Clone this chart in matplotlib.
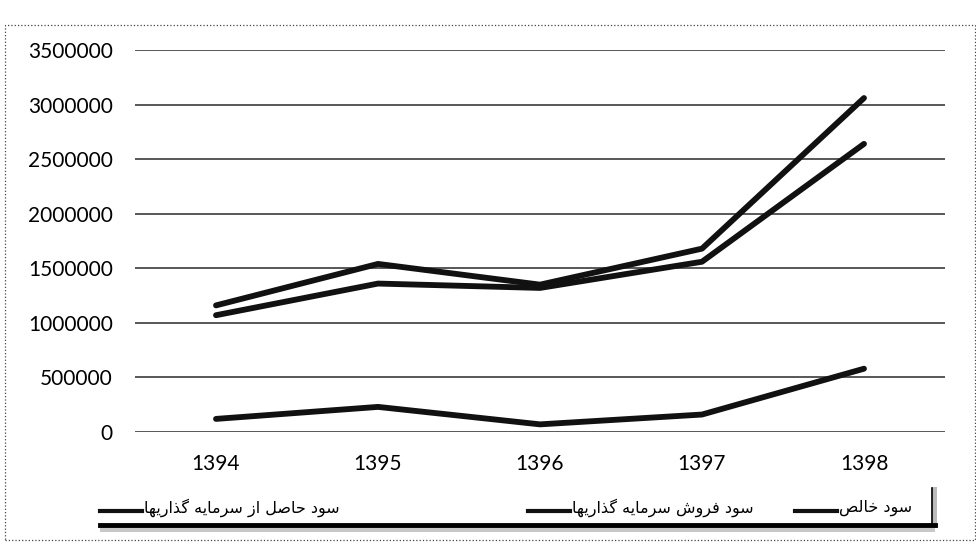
import numpy as np
import matplotlib.pyplot as plt
from matplotlib.lines import Line2D
from matplotlib.patches import Rectangle

# data
years = ['1394', '1395', '1396', '1397', '1398']
sood_hasel = [1160000, 1540000, 1350000, 1680000, 3060000]   # upper line
sood_khales = [1070000, 1360000, 1320000, 1560000, 2640000]  # middle line
sood_foroosh = [120000, 230000, 70000, 160000, 580000]       # bottom line
y_ticks = [0, 500000, 1000000, 1500000, 2000000, 2500000, 3000000, 3500000]

label_khales = 'سود خالص'
label_foroosh = 'سود فروش سرمایه گذاریها'
label_hasel = 'سود حاصل از سرمایه گذاریها'


# matplotlib has no arabic shaping -> simple persian shaper
# (isolated, final, initial, medial)
forms = {
    'ا': ('\uFE8D', '\uFE8E', None, None),
    'د': ('\uFEA9', '\uFEAA', None, None),
    'ذ': ('\uFEAB', '\uFEAC', None, None),
    'ر': ('\uFEAD', '\uFEAE', None, None),
    'ز': ('\uFEAF', '\uFEB0', None, None),
    'و': ('\uFEED', '\uFEEE', None, None),
    'س': ('\uFEB1', '\uFEB2', '\uFEB3', '\uFEB4'),
    'ش': ('\uFEB5', '\uFEB6', '\uFEB7', '\uFEB8'),
    'ص': ('\uFEB9', '\uFEBA', '\uFEBB', '\uFEBC'),
    'ح': ('\uFEA1', '\uFEA2', '\uFEA3', '\uFEA4'),
    'خ': ('\uFEA5', '\uFEA6', '\uFEA7', '\uFEA8'),
    'ف': ('\uFED1', '\uFED2', '\uFED3', '\uFED4'),
    'ل': ('\uFEDD', '\uFEDE', '\uFEDF', '\uFEE0'),
    'م': ('\uFEE1', '\uFEE2', '\uFEE3', '\uFEE4'),
    'ه': ('\uFEE9', '\uFEEA', '\uFEEB', '\uFEEC'),
    'ی': ('\uFBFC', '\uFBFD', '\uFBFE', '\uFBFF'),
    'گ': ('\uFB92', '\uFB93', '\uFB94', '\uFB95'),
}

def shape(text):
    out = []
    for i, ch in enumerate(text):
        if ch not in forms:
            out.append(ch)
            continue
        prev = text[i-1] if i > 0 else ' '
        nxt = text[i+1] if i < len(text)-1 else ' '
        joins_prev = prev in forms and forms[prev][2] is not None
        joins_next = nxt in forms and forms[ch][2] is not None
        iso, fin, ini, med = forms[ch]
        if joins_prev and joins_next:
            out.append(med)
        elif joins_prev:
            out.append(fin)
        elif joins_next:
            out.append(ini)
        else:
            out.append(iso)
    return ''.join(out)[::-1]


plt.rcParams['font.family'] = ['Lato', 'DejaVu Sans']

fig = plt.figure(figsize=(9.76, 5.49), dpi=100)
ax = fig.add_axes([135/976, 1-432/549, 810/976, (432-50)/549])

x = np.arange(len(years))
line_style = dict(color='#111111', lw=4.2, solid_joinstyle='round', solid_capstyle='round')
ax.plot(x, sood_hasel, **line_style)
ax.plot(x, sood_khales, **line_style)
ax.plot(x, sood_foroosh, **line_style)

ax.set_xlim(-0.5, len(years)-0.5)
ax.set_ylim(0, 3500000)
ax.set_yticks(y_ticks)
ax.set_yticklabels([str(v) for v in y_ticks])
ax.set_xticks(x)
ax.set_xticklabels(years)
ax.tick_params(axis='y', length=0, pad=16, labelsize=15)
ax.tick_params(axis='x', length=0, pad=16, labelsize=15)
ax.grid(axis='y', color='#2a2a2a', lw=1.1)
ax.set_axisbelow(True)
for s in ax.spines.values():
    s.set_visible(False)

# outer (scanned) frame
fig.add_artist(Rectangle((5/976, 1-540/549), 970/976, 515/549, transform=fig.transFigure,
                         fill=False, ec='#444444', lw=0.9, ls=':'))

# legend box: thick bottom edge and shaded right side like the scan
fig.add_artist(Rectangle((100/976, 1-532/549), 835/976, 5/549, transform=fig.transFigure,
                         fc='#c8c8c8', ec='none'))
fig.add_artist(Line2D([100/976, 935/976], [1-525/549, 1-525/549], transform=fig.transFigure,
                      color='black', lw=3.5))
fig.add_artist(Rectangle((932/976, 1-527/549), 5/976, 40/549, transform=fig.transFigure,
                         fc='#bbbbbb', ec='none'))
fig.add_artist(Line2D([932/976, 932/976], [1-525/549, 1-488/549], transform=fig.transFigure,
                      color='black', lw=1.2))

legend_labels = [label_hasel, label_foroosh, label_khales]
legend_x = [100, 528, 795]
for lab, lx in zip(legend_labels, legend_x):
    fig.add_artist(Line2D([lx/976, (lx+42)/976], [1-511/549, 1-511/549],
                          transform=fig.transFigure, color='#111111', lw=3))
    fig.text((lx+44)/976, 1-508/549, shape(lab), family=['DejaVu Sans'], fontsize=11.5,
             ha='left', va='center')

plt.savefig('out.png', dpi=100)
